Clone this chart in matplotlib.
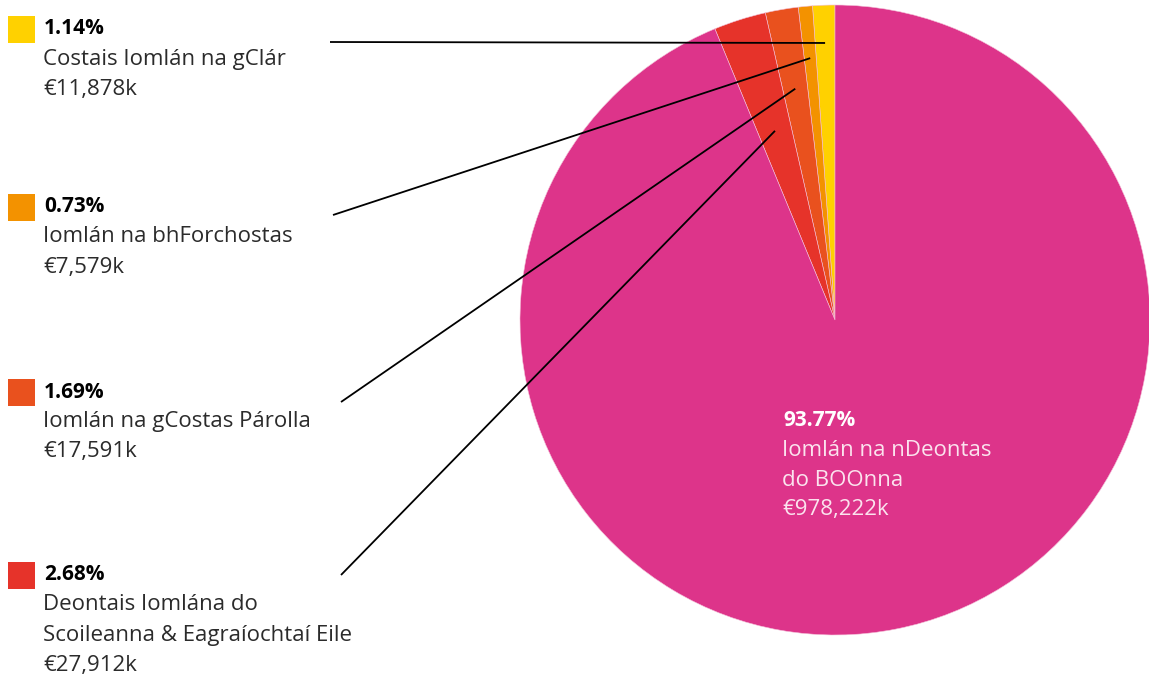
import numpy as np
import matplotlib as mpl
mpl.use('Agg')
from matplotlib import pyplot as plt
from matplotlib.patches import Rectangle

# data (k EUR)
names = ['Costais Iomlán na gClár',
         'Iomlán na bhForchostas',
         'Iomlán na gCostas Párolla',
         'Deontais Iomlána do\nScoileanna & Eagraíochtaí Eile',
         'Iomlán na nDeontas\ndo BOOnna']
amounts = [11878, 7579, 17591, 27912, 978222]
pct_labels = ['1.14%', '0.73%', '1.69%', '2.68%', '93.77%']
amount_labels = ['€11,878k', '€7,579k', '€17,591k', '€27,912k', '€978,222k']
colors = ['#FFD100', '#F39200', '#E9511E', '#E6332A', '#DD348A']

W, H = 1149, 674
plt.rcParams['font.family'] = ['Open Sans', 'DejaVu Sans']

fig = plt.figure(figsize=(W / 100, H / 100), dpi=100)
ax = fig.add_axes([0, 0, 1, 1])

cx, cy, R = 835, H - 320, 315
wedges, _ = ax.pie(amounts, colors=colors, startangle=90, counterclock=True,
                   center=(cx, cy), radius=R, frame=True,
                   wedgeprops=dict(edgecolor='#f4c0d8', linewidth=0.4))
ax.set_xlim(0, W)
ax.set_ylim(0, H)
ax.set_aspect('equal')
ax.axis('off')

# labels on the left, with leader lines to the slice middle
label_y = [29, 207, 392, 575]     # px from top
line_start = [(330, 42), (333, 215), (341, 402), (341, 575)]
depth = [0.88, 0.835, 0.745, 0.63]
fs_pct = 15
fs = 16
step = 30
for i in range(4):
    y0 = H - label_y[i]
    ax.add_patch(Rectangle((8, y0 - 13.5), 27, 27, color=colors[i], lw=0))
    ax.text(44, y0, pct_labels[i], fontsize=fs_pct, fontweight='bold',
            va='center', ha='left', color='black')
    lines = names[i].split('\n') + [amount_labels[i]]
    for j, s in enumerate(lines):
        ax.text(43, y0 - step * (j + 1), s, fontsize=fs, fontweight='normal',
                va='center', ha='left', color='#2b2b2b')
    w = wedges[i]
    mid = np.deg2rad((w.theta1 + w.theta2) / 2)
    ex = cx + depth[i] * R * np.cos(mid)
    ey = cy + depth[i] * R * np.sin(mid)
    sx, sy = line_start[i]
    ax.plot([sx, ex], [H - sy, ey], color='black', lw=1.3, solid_capstyle='butt')

# label inside the big slice
y0 = H - 420
ax.text(783, y0, pct_labels[4], fontsize=fs_pct, fontweight='bold',
        va='center', ha='left', color='white')
lines = names[4].split('\n') + [amount_labels[4]]
for j, s in enumerate(lines):
    ax.text(782, y0 - step * (j + 1), s, fontsize=fs, fontweight='normal',
            va='center', ha='left', color='#fbe3ee')

fig.savefig('out.png', dpi=100)
